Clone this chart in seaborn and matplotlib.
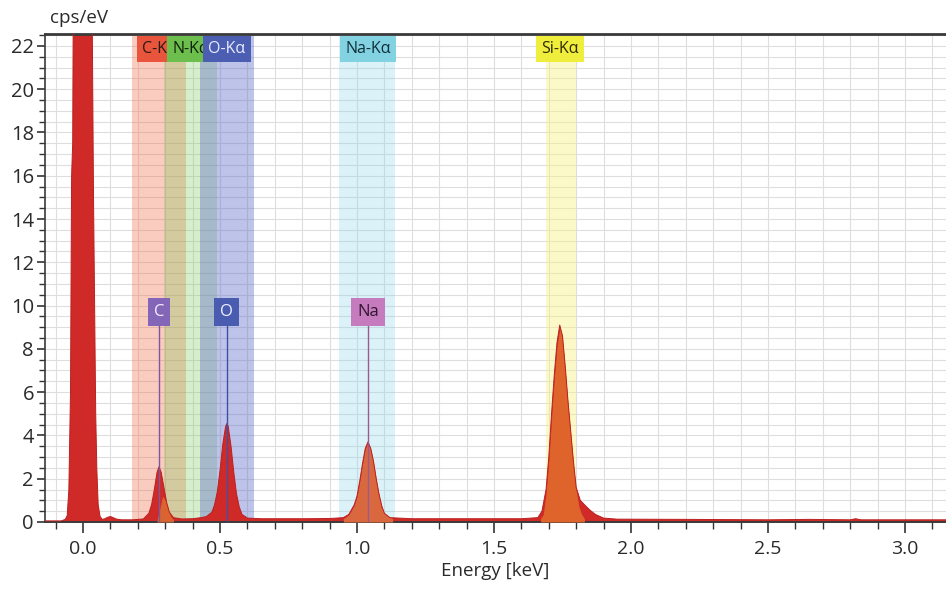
import matplotlib
matplotlib.use("Agg")
import matplotlib.pyplot as plt
from matplotlib.ticker import MultipleLocator, FormatStrFormatter
import seaborn as sns
import numpy as np
import pandas as pd

# ---------------- data ----------------
energy_keV = [-0.14, -0.08, -0.065, -0.058, -0.052, -0.046, -0.042, -0.038, -0.034, 0.0,
              0.03, 0.034, 0.038, 0.042, 0.046, 0.05, 0.055, 0.062, 0.07, 0.08,
              0.09, 0.1, 0.11, 0.12, 0.14, 0.18, 0.22, 0.24, 0.25, 0.26,
              0.27, 0.277, 0.285, 0.295, 0.305, 0.315, 0.33, 0.36, 0.4, 0.43,
              0.45, 0.47, 0.48, 0.49, 0.5, 0.51, 0.52, 0.525, 0.53, 0.54,
              0.55, 0.56, 0.57, 0.58, 0.6, 0.65, 0.8, 0.9, 0.95, 0.97,
              0.99, 1.0, 1.01, 1.02, 1.03, 1.04, 1.05, 1.06, 1.07, 1.08,
              1.09, 1.1, 1.12, 1.2, 1.4, 1.6, 1.66, 1.675, 1.69, 1.70,
              1.71, 1.72, 1.73, 1.74, 1.75, 1.76, 1.77, 1.78, 1.79, 1.80,
              1.815, 1.83, 1.85, 1.87, 1.9, 1.95, 2.2, 2.5, 2.65, 2.8,
              2.82, 2.84, 3.0, 3.15]
cps_per_eV = [0.05, 0.05, 0.12, 0.3, 1.5, 6.0, 16.0, 17.5, 30, 30,
              30, 22, 15, 10, 5, 2.5, 0.8, 0.25, 0.12, 0.15,
              0.22, 0.25, 0.2, 0.14, 0.1, 0.1, 0.14, 0.4, 0.8, 1.5,
              2.3, 2.55, 2.3, 1.6, 0.9, 0.45, 0.2, 0.14, 0.15, 0.2,
              0.25, 0.45, 0.8, 1.4, 2.4, 3.6, 4.4, 4.55, 4.4, 3.5,
              2.3, 1.3, 0.7, 0.35, 0.18, 0.15, 0.15, 0.16, 0.2, 0.35,
              0.8, 1.2, 1.9, 2.7, 3.4, 3.7, 3.4, 2.8, 2.0, 1.3,
              0.75, 0.4, 0.2, 0.15, 0.15, 0.15, 0.2, 0.5, 1.5, 3.0,
              5.0, 6.8, 8.3, 9.1, 8.6, 7.2, 5.6, 4.2, 2.8, 1.6,
              1.0, 0.8, 0.55, 0.35, 0.18, 0.13, 0.12, 0.1, 0.12, 0.1,
              0.15, 0.1, 0.1, 0.1]

# fitted element contributions (orange)
si_fit_keV = [1.67, 1.68, 1.69, 1.70, 1.71, 1.72, 1.73, 1.74, 1.75, 1.76, 1.77, 1.78, 1.79, 1.80, 1.81, 1.82, 1.83]
si_fit_cps = [0.15, 0.35, 1.3, 2.8, 4.8, 6.6, 8.1, 8.95, 8.45, 7.05, 5.45, 4.05, 2.65, 1.45, 0.7, 0.35, 0.15]
na_fit_keV = [0.95, 0.97, 0.99, 1.0, 1.01, 1.02, 1.03, 1.04, 1.05, 1.06, 1.07, 1.08, 1.09, 1.1, 1.13]
na_fit_cps = [0.15, 0.33, 0.78, 1.18, 1.88, 2.68, 3.38, 3.68, 3.38, 2.78, 1.98, 1.28, 0.73, 0.38, 0.15]
n_fit_keV = [0.27, 0.28, 0.29, 0.30, 0.31, 0.32, 0.33]
n_fit_cps = [0.1, 0.6, 1.2, 1.0, 0.6, 0.25, 0.1]

# element line windows
band_names = ["C-Kα", "N-Kα", "O-Kα", "Na-Kα", "Si-Kα"]
band_centers = [0.277, 0.392, 0.525, 1.041, 1.740]
band_lo = [0.18, 0.295, 0.425, 0.935, 1.69]
band_hi = [0.375, 0.49, 0.625, 1.14, 1.80]

# identified peaks
peak_labels = ["C", "O", "Na"]
peak_energies = [0.277, 0.525, 1.041]

# ---------------- style ----------------
sns.set_theme(style="white")
plt.rcParams["font.family"] = ["Open Sans", "DejaVu Sans"]

band_fc = ["#f26b4a", "#7cc85a", "#5a6ac8", "#8fd8ea", "#f8f07a"]
band_alpha = [0.35, 0.30, 0.40, 0.32, 0.40]
tag_fc = ["#e8553c", "#6cbf4c", "#4b5eb2", "#82d2e2", "#f0ee3c"]
tag_tc = ["#2a1a10", "#10200a", "#e8ecff", "#10303a", "#302a00"]
peak_fc = ["#8466b8", "#4a5cb0", "#c77bbf"]
peak_tc = ["#f4f0ff", "#f0f2ff", "#301830"]
peak_lc = ["#7a5a9a", "#3f4fa8", "#9a5a90"]

fig = plt.figure(figsize=(9.46, 5.9), dpi=100)
ax = fig.add_axes([0.0476, 0.1153, 0.9524, 0.8271])

ax.set_xlim(-0.139, 3.15)
ax.set_ylim(0, 22.55)

# grid
ax.xaxis.set_major_locator(MultipleLocator(0.5))
ax.xaxis.set_minor_locator(MultipleLocator(0.1))
ax.yaxis.set_major_locator(MultipleLocator(2))
ax.yaxis.set_minor_locator(MultipleLocator(0.5))
ax.grid(which="both", color="#dedede", lw=0.8, zorder=0)
ax.set_axisbelow(True)

# bands
for lo, hi, fc, a in zip(band_lo, band_hi, band_fc, band_alpha):
    ax.axvspan(lo, hi, color=fc, alpha=a, lw=0, zorder=1)

# spectrum
df = pd.DataFrame({"Energy": energy_keV, "cps": cps_per_eV})
ax.fill_between(df["Energy"], 0, df["cps"], color="#cf2a27", lw=0, zorder=2)
ax.fill_between(n_fit_keV, 0, n_fit_cps, color="#dc6a32", lw=0, alpha=0.9, zorder=3)
ax.fill_between(na_fit_keV, 0, na_fit_cps, color="#d9683e", lw=0, zorder=3)
ax.fill_between(si_fit_keV, 0, si_fit_cps, color="#df642c", lw=0, zorder=3)
sns.lineplot(data=df, x="Energy", y="cps", ax=ax, color="#bb2020", lw=0.7, zorder=4,
             estimator=None, sort=False)

# peak marker lines and tags
for lab, e, fc, tc, lc in zip(peak_labels, peak_energies, peak_fc, peak_tc, peak_lc):
    ax.plot([e, e], [0, 9.1], color=lc, lw=1.0, zorder=5)
    ax.text(e, 9.7, lab, ha="center", va="center", fontsize=12, color=tc, zorder=6,
            bbox=dict(boxstyle="square,pad=0.36", fc=fc, ec="none"))

# element window tags
for i, (name, c, fc, tc) in enumerate(zip(band_names, band_centers, tag_fc, tag_tc)):
    ax.text(c, 21.85, name, ha="center", va="center", fontsize=11.5, color=tc, zorder=7 + i,
            bbox=dict(boxstyle="square,pad=0.32", fc=fc, ec="none"))

# axes styling
for s in ["left", "bottom", "top"]:
    ax.spines[s].set_visible(True)
    ax.spines[s].set_color("#3a3a3a")
ax.spines["top"].set_linewidth(2.0)
ax.spines["left"].set_linewidth(1.2)
ax.spines["bottom"].set_linewidth(1.4)
ax.spines["right"].set_visible(False)

ax.tick_params(axis="x", which="major", direction="out", length=8, width=1.2, color="#333333",
               labelsize=14, pad=5, bottom=True)
ax.tick_params(axis="x", which="minor", direction="out", length=5, width=1.0, color="#333333", bottom=True)
ax.tick_params(axis="y", which="major", direction="out", length=6, width=1.2, color="#333333",
               labelsize=14.5, pad=2, left=True)
ax.tick_params(axis="y", which="minor", direction="out", length=4, width=1.0, color="#333333", left=True)
ax.xaxis.set_major_formatter(FormatStrFormatter("%.1f"))
ax.yaxis.set_major_formatter(FormatStrFormatter("%d"))
for t in ax.get_xticklabels() + ax.get_yticklabels():
    t.set_color("#2a2a2a")

ax.set_xlabel("Energy [keV]", fontsize=13.5, color="#2a2a2a", labelpad=3)
ax.set_ylabel("")
fig.text(0.053, 0.969, "cps/eV", fontsize=13.5, color="#2a2a2a", ha="left", va="center")

fig.savefig("out.png", dpi=100)
